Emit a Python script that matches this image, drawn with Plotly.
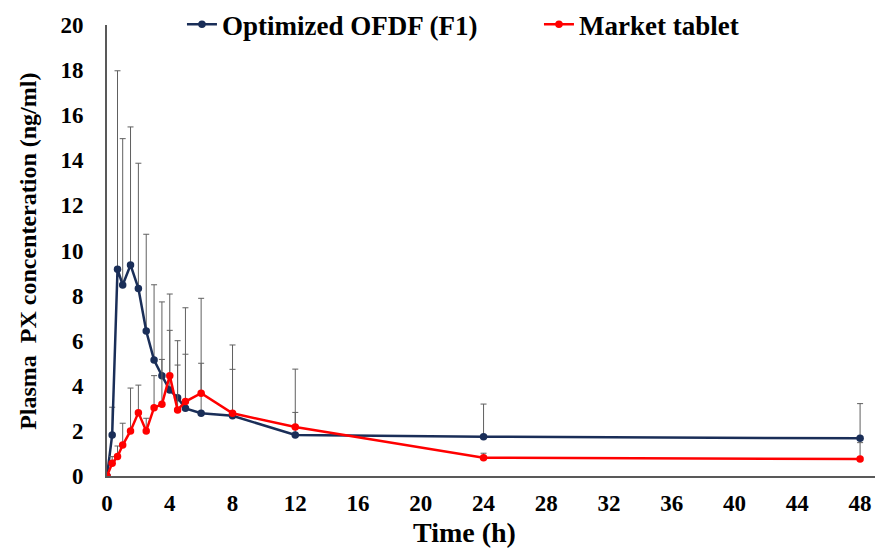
import plotly.graph_objects as go

time_h = [0, 0.33, 0.67, 1, 1.5, 2, 2.5, 3, 3.5, 4, 4.5, 5, 6, 8, 12, 24, 48]

ofdf_mean = [0, 1.82, 9.17, 8.47, 9.36, 8.32, 6.43, 5.14, 4.45, 3.81, 3.47, 3.0, 2.78, 2.67, 1.82, 1.74, 1.67]
ofdf_sd = [0, 1.23, 8.8, 6.49, 6.12, 5.55, 4.29, 3.34, 3.27, 4.26, 2.53, 4.46, 5.1, 3.14, 2.92, 1.45, 1.54]

market_mean = [0, 0.56, 0.86, 1.37, 2.0, 2.81, 2.0, 3.03, 3.18, 4.45, 2.93, 3.30, 3.67, 2.78, 2.17, 0.81, 0.75]
market_sd = [0, 0.3, 0.47, 0.97, 1.9, 1.22, 0.56, 1.42, 1.99, 2.01, 1.99, 2.1, 1.33, 1.95, 0.65, 0.2, 0.73]

x_ticks = list(range(0, 49, 4))
y_ticks = list(range(0, 21, 2))

FONT = "Liberation Serif"
NAVY = "#1A2E58"
RED = "#FF0000"
ERR = "#606060"

fig = go.Figure()
fig.add_trace(go.Scatter(
    x=time_h, y=ofdf_mean, name="<b>Optimized OFDF (F1)</b>",
    mode="lines+markers",
    line=dict(color=NAVY, width=2.5),
    marker=dict(color=NAVY, size=7.5),
    error_y=dict(type="data", symmetric=False, array=ofdf_sd,
                 arrayminus=[0] * len(ofdf_sd), color=ERR, thickness=1, width=3),
))
fig.add_trace(go.Scatter(
    x=time_h, y=market_mean, name="<b>Market tablet</b>",
    mode="lines+markers",
    line=dict(color=RED, width=2.5),
    marker=dict(color=RED, size=7.5),
    error_y=dict(type="data", symmetric=False, array=market_sd,
                 arrayminus=[0] * len(market_sd), color=ERR, thickness=1, width=3),
))

# page body has an 8px margin, so the figure is sized/margined to compensate
fig.update_layout(
    width=875, height=541,
    margin=dict(l=99, r=0, t=17, b=73, autoexpand=False),
    paper_bgcolor="white", plot_bgcolor="white",
    font=dict(family=FONT, color="black"),
    showlegend=True,
    legend=dict(orientation="h", x=0.0966, y=1.055, xanchor="left", yanchor="top",
                font=dict(family=FONT, size=27, color="black"),
                bgcolor="rgba(255,255,255,0)", borderwidth=0,
                entrywidth=312, entrywidthmode="pixels"),
    annotations=[
        dict(text="<b>Plasma  PX concenteration (ng/ml)</b>", xref="paper", yref="paper",
             x=-0.1018, y=0.497, xanchor="center", yanchor="middle", textangle=-90,
             showarrow=False, font=dict(family=FONT, size=24, color="black")),
        dict(text="<b>Time (h)</b>", xref="paper", yref="paper",
             x=0.461, y=-0.126, xanchor="center", yanchor="middle",
             showarrow=False, font=dict(family=FONT, size=28, color="black")),
    ],
)
fig.update_xaxes(
    range=[0, 49.46], tickvals=x_ticks, ticktext=[f"<b>{v}</b>" for v in x_ticks],
    showgrid=False, zeroline=False, showline=True, linecolor="#595959", linewidth=2,
    ticks="outside", ticklen=5, tickcolor="rgba(0,0,0,0)",
    tickfont=dict(family=FONT, size=23, color="black"), automargin=False,
)
fig.update_yaxes(
    range=[0, 20], tickvals=y_ticks, ticktext=[f"<b>{v}</b>" for v in y_ticks],
    showgrid=False, zeroline=False, showline=True, linecolor="#595959", linewidth=2,
    ticks="outside", ticklen=17, tickcolor="rgba(0,0,0,0)",
    tickfont=dict(family=FONT, size=23, color="black"), automargin=False,
)

fig.write_html("out.html")
